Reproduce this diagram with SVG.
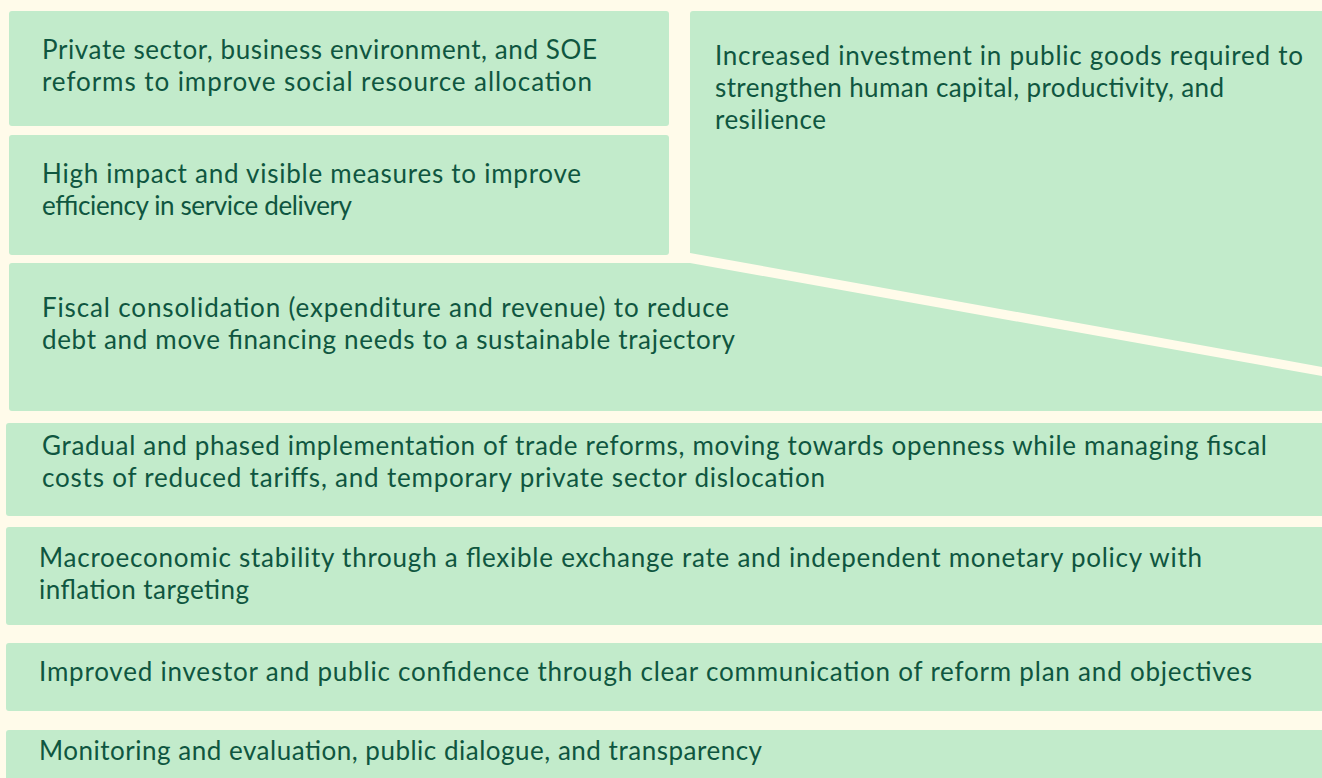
<svg xmlns="http://www.w3.org/2000/svg" width="1322" height="778" viewBox="0 0 1322 778">
<style>
.box{fill:#c2ebcb}
.t{font-family:Lato,"Open Sans","Liberation Sans",sans-serif;font-size:26px;fill:#0f5640}
</style>
<rect x="0" y="0" width="1322" height="778" fill="#fffbea"/>
<g id="private-sector">
<rect class="box" x="9" y="11" width="660" height="115" rx="3"/>
<text class="t" x="42" y="59" textLength="555" lengthAdjust="spacing">Private sector, business environment, and SOE</text>
<text class="t" x="42" y="91" textLength="550" lengthAdjust="spacing">reforms to improve social resource allocation</text>
</g>
<g id="high-impact">
<rect class="box" x="9" y="135" width="660" height="120" rx="3"/>
<text class="t" x="42" y="183" textLength="539" lengthAdjust="spacing">High impact and visible measures to improve</text>
<text class="t" x="42" y="215" textLength="310" lengthAdjust="spacing">efficiency in service delivery</text>
</g>
<g id="public-goods">
<path class="box" d="M693,11 H1330 V368.4 L690,253 V14 Q690,11 693,11 Z"/>
<text class="t" x="715" y="65" textLength="588" lengthAdjust="spacing">Increased investment in public goods required to</text>
<text class="t" x="715" y="97" textLength="509" lengthAdjust="spacing">strengthen human capital, productivity, and</text>
<text class="t" x="715" y="129" textLength="111" lengthAdjust="spacing">resilience</text>
</g>
<g id="fiscal">
<path class="box" d="M12,263 H690 L1330,377.4 V411 H12 Q9,411 9,408 V266 Q9,263 12,263 Z"/>
<text class="t" x="42" y="317" textLength="687" lengthAdjust="spacing">Fiscal consolidation (expenditure and revenue) to reduce</text>
<text class="t" x="42" y="349" textLength="693" lengthAdjust="spacing">debt and move financing needs to a sustainable trajectory</text>
</g>
<g id="trade">
<rect class="box" x="6" y="423" width="1324" height="93" rx="3"/>
<text class="t" x="42" y="455" textLength="1225" lengthAdjust="spacing">Gradual and phased implementation of trade reforms, moving towards openness while managing fiscal</text>
<text class="t" x="42" y="487" textLength="783" lengthAdjust="spacing">costs of reduced tariffs, and temporary private sector dislocation</text>
</g>
<g id="macro">
<rect class="box" x="6" y="527" width="1324" height="98" rx="3"/>
<text class="t" x="39" y="567" textLength="1163" lengthAdjust="spacing">Macroeconomic stability through a flexible exchange rate and independent monetary policy with</text>
<text class="t" x="39" y="599" textLength="210" lengthAdjust="spacing">inflation targeting</text>
</g>
<g id="confidence">
<rect class="box" x="6" y="643" width="1324" height="68" rx="3"/>
<text class="t" x="39" y="681" textLength="1213" lengthAdjust="spacing">Improved investor and public confidence through clear communication of reform plan and objectives</text>
</g>
<g id="monitoring">
<rect class="box" x="6" y="730" width="1324" height="60" rx="3"/>
<text class="t" x="39" y="760" textLength="723" lengthAdjust="spacing">Monitoring and evaluation, public dialogue, and transparency</text>
</g>
</svg>
